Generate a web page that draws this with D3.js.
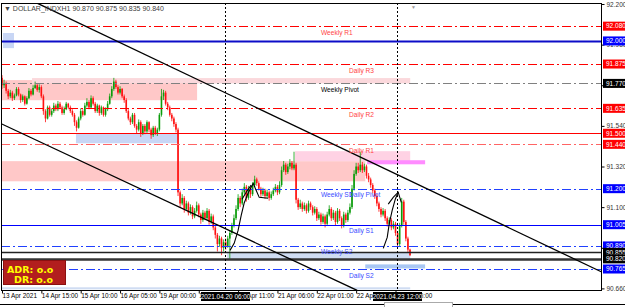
<!DOCTYPE html>
<html>
<head>
<meta charset="utf-8">
<script src="https://d3js.org/d3.v7.min.js"></script>
<style>
body{margin:0;background:#fff;overflow:hidden}
text{font-family:"Liberation Sans",Arial,sans-serif}
</style>
</head>
<body>
<div id="chart"></div>
<script>
// H1 candles, 13 Apr 2021 .. 23 Apr 2021 (open of bar i = close of bar i-1)
var firstOpen = 91.800;
var closes = [
91.760,91.770,91.730,91.700,91.720,91.690,91.705,91.740,91.710,91.680,
91.700,91.660,91.690,91.730,91.710,91.745,91.760,91.735,91.750,91.700,
91.620,91.580,91.640,91.600,91.620,91.650,91.630,91.660,91.640,91.610,
91.630,91.660,91.640,91.620,91.600,91.560,91.530,91.580,91.620,91.600,
91.650,91.670,91.640,91.690,91.660,91.620,91.650,91.610,91.640,91.600,
91.630,91.660,91.700,91.740,91.780,91.750,91.720,91.740,91.700,91.680,
91.620,91.580,91.560,91.600,91.540,91.520,91.560,91.500,91.540,91.510,
91.560,91.520,91.490,91.530,91.500,91.520,91.600,91.700,91.720,91.660,
91.640,91.600,91.580,91.550,91.520,91.180,91.120,91.150,91.090,91.120,
91.070,91.100,91.050,91.080,91.110,91.060,91.030,91.070,91.040,91.080,
91.020,91.050,90.990,90.950,90.900,90.930,90.880,90.910,90.890,90.930,
90.960,91.000,91.040,91.090,91.150,91.120,91.180,91.210,91.150,91.200,
91.170,91.220,91.250,91.230,91.200,91.170,91.190,91.160,91.180,91.150,
91.170,91.190,91.210,91.180,91.220,91.300,91.330,91.290,91.320,91.340,
91.310,91.330,91.140,91.100,91.120,91.090,91.110,91.080,91.120,91.100,
91.070,91.090,91.040,91.060,91.020,91.050,91.010,91.060,91.090,91.040,
91.070,91.020,91.080,91.040,91.000,91.060,91.030,91.070,91.100,91.200,
91.280,91.320,91.300,91.330,91.300,91.320,91.270,91.250,91.220,91.190,
91.160,91.120,91.090,91.060,91.080,91.040,91.010,91.030,90.990,91.010,
90.960,90.900,91.000,91.130,91.020,90.930,90.870,90.840];
var highs = [
91.815,91.790,91.780,91.740,91.735,91.730,91.715,91.750,91.750,91.715,
91.710,91.705,91.700,91.745,91.740,91.760,91.780,91.770,91.765,91.760,
91.710,91.630,91.650,91.650,91.635,91.665,91.660,91.675,91.670,91.650,
91.645,91.670,91.665,91.650,91.630,91.610,91.570,91.590,91.635,91.630,
91.665,91.690,91.680,91.705,91.700,91.670,91.660,91.655,91.650,91.645,
91.640,91.675,91.715,91.755,91.800,91.790,91.760,91.755,91.745,91.710,
91.690,91.630,91.590,91.610,91.610,91.550,91.575,91.570,91.550,91.550,
91.570,91.565,91.530,91.540,91.540,91.530,91.610,91.740,91.735,91.730,
91.670,91.650,91.610,91.590,91.560,91.530,91.190,91.170,91.160,91.135,
91.130,91.115,91.110,91.095,91.130,91.120,91.070,91.085,91.080,91.095,
91.090,91.065,91.060,91.000,90.960,90.945,90.940,90.925,90.930,90.945,
90.975,91.015,91.060,91.110,91.170,91.160,91.200,91.230,91.220,91.215,
91.210,91.235,91.270,91.260,91.240,91.210,91.205,91.200,91.195,91.190,
91.185,91.205,91.225,91.220,91.240,91.320,91.350,91.340,91.335,91.360,
91.350,91.400,91.340,91.150,91.140,91.130,91.125,91.120,91.135,91.130,
91.110,91.105,91.100,91.075,91.070,91.065,91.060,91.075,91.110,91.100,
91.085,91.080,91.095,91.090,91.050,91.075,91.070,91.085,91.120,91.220,
91.300,91.340,91.340,91.400,91.345,91.335,91.330,91.285,91.260,91.230,
91.200,91.170,91.130,91.100,91.095,91.090,91.050,91.045,91.040,91.025,
91.020,90.970,91.015,91.150,91.140,91.030,90.940,90.875];
var lows = [
91.740,91.745,91.715,91.685,91.690,91.675,91.680,91.700,91.700,91.665,
91.670,91.650,91.655,91.685,91.700,91.705,91.740,91.725,91.720,91.690,
91.600,91.560,91.575,91.590,91.590,91.610,91.620,91.620,91.630,91.600,
91.600,91.625,91.630,91.610,91.590,91.540,91.510,91.525,91.570,91.590,
91.595,91.640,91.630,91.635,91.650,91.610,91.610,91.595,91.600,91.590,
91.590,91.620,91.655,91.690,91.730,91.740,91.710,91.710,91.690,91.665,
91.610,91.570,91.545,91.550,91.530,91.500,91.510,91.480,91.490,91.495,
91.500,91.505,91.470,91.480,91.490,91.485,91.510,91.590,91.680,91.650,
91.625,91.590,91.565,91.535,91.505,91.160,91.100,91.110,91.070,91.080,
91.055,91.060,91.035,91.040,91.070,91.045,91.010,91.020,91.030,91.030,
91.005,91.010,90.975,90.930,90.860,90.885,90.840,90.860,90.870,90.880,
90.820,90.950,90.990,91.030,91.080,91.100,91.110,91.170,91.130,91.140,
91.150,91.160,91.210,91.215,91.190,91.155,91.160,91.145,91.150,91.135,
91.140,91.160,91.180,91.165,91.170,91.210,91.290,91.275,91.280,91.305,
91.300,91.300,91.120,91.085,91.090,91.075,91.080,91.065,91.070,91.085,
91.055,91.060,91.025,91.030,91.005,91.010,90.990,91.000,91.050,91.025,
91.030,91.000,91.010,91.025,90.985,90.990,91.015,91.020,91.060,91.090,
91.190,91.270,91.285,91.290,91.285,91.290,91.255,91.235,91.205,91.175,
91.145,91.105,91.075,91.045,91.050,91.025,90.995,91.000,90.975,90.980,
90.945,90.880,90.890,90.990,91.005,90.915,90.855,90.835];

var timeTickBars = [0,19,38,57,76,95,114,133,152,171,190];
var timeTickLabels = ["13 Apr 2021","14 Apr 15:00","15 Apr 10:00","16 Apr 05:00","19 Apr 00:00",
  "19 Apr 16:00","20 Apr 11:00","21 Apr 06:00","22 Apr 01:00","22 Apr 20:00","23 Apr 15:00"];
var priceTicks = [92.200,91.980,91.760,91.540,91.320,91.100,90.880,90.660];

// horizontal levels
var levelPrices = [92.080,92.000,91.875,91.770,91.635,91.500,91.440,91.200,91.005,90.890,90.855,90.820,90.765];
var levelKinds = ["res","blue","res","pivot","res","red","res1","sup","blue1","sup","black1","black2","sup"];
var pivotNames = ["Weekly R1","Daily R3","Weekly Pivot","Daily R2","Daily R1","Weekly S1","Daily Pivot","Daily S1","Weekly S2","Daily S2"];
var pivotPrices = [92.080,91.875,91.770,91.635,91.440,91.200,91.200,91.005,90.890,90.765];

// rectangles: [from bar, to bar], [top price, bottom price]
var zoneBars = [[0.5,5.8],[-1,94.2],[14.5,197.1],[35.7,85],[-1,175.4],[141.5,197.1],[176.3,204.3],[108.7,197.1],[175.4,204.3],[-0.5,197.1]];
var zonePrices = [[92.043,91.961],[91.788,91.679],[91.799,91.770],[91.500,91.446],[91.349,91.240],[91.403,91.349],[91.354,91.332],[90.855,90.817],[90.790,90.768],[90.666,90.655]];
var zoneKinds = ["blue","pink","pinkLight","blue","pink","lilac","magenta","blueLight","blueMid","blueLight"];

// trend lines
var trendBars = [[16.9,289.9],[-1,171.5]];
var trendPrices = [[92.205,90.747],[91.555,90.649]];

// hand drawn arrows
var arrowBars = [
  [110.1,112.1,114.0,115.5,116.9,118.8,121.3,122.7,124.2,128.5],
  [115.9,117.9,120.3],
  [184.1,186.0,187.0,188.4,189.9,191.3],
  [186.5,188.9,191.3,192.8]];
var arrowPrices = [
  [90.866,90.904,90.974,91.056,91.121,91.175,91.229,91.191,91.153,91.148],
  [91.143,91.181,91.219],
  [90.877,90.936,91.012,91.083,91.143,91.181],
  [91.116,91.153,91.181,91.126]];

var markerBars = [107.7,190.8];
var markerLabels = ["2021.04.20 06:00","2021.04.23 12:00"];

var adrLines = ["ADR: o.o","DR: o.o"];

var plot = {left:1, top:3, right:602, bottom:291};

var svg = d3.select("#chart").append("svg")
  .attr("width",625).attr("height",307)
  .style("display","block");

var x = d3.scaleLinear().domain([0,197]).range([2,410]);
var y = d3.scaleLinear().domain([90.66,92.2]).range([288.4,4]);

svg.append("defs").append("clipPath").attr("id","clip")
  .append("rect")
  .attr("x",plot.left).attr("y",plot.top)
  .attr("width",plot.right-plot.left).attr("height",plot.bottom-plot.top);

var g = svg.append("g").attr("clip-path","url(#clip)");

var zoneColor = {blue:"#c8d6f5",pink:"#ffc8c8",pinkLight:"#fbd8dc",lilac:"#ffd2e4",
  magenta:"#ff8cff",blueMid:"#a9c7f3",blueLight:"#cfdcf2"};

g.selectAll("rect.zone")
  .data(zoneBars)
  .enter()
  .append("rect")
    .attr("class","zone")
    .attr("x",function(d){return x(d[0])})
    .attr("width",function(d){return x(d[1])-x(d[0])})
    .attr("y",function(d,i){return y(zonePrices[i][0])})
    .attr("height",function(d,i){return y(zonePrices[i][1])-y(zonePrices[i][0])})
    .style("fill",function(d,i){return zoneColor[zoneKinds[i]]});

// candles
var candles = closes.map(function(c,i){
  var o = i==0 ? firstOpen : closes[i-1];
  return {i:i,o:o,h:highs[i],l:lows[i],c:c};
});
var upCol = "#0a9c0a", dnCol = "#ff1010";

g.selectAll("line.wick")
  .data(candles)
  .enter()
  .append("line")
    .attr("x1",function(d){return x(d.i)})
    .attr("x2",function(d){return x(d.i)})
    .attr("y1",function(d){return y(Math.max(d.h,d.o,d.c))})
    .attr("y2",function(d){return y(Math.min(d.l,d.o,d.c))})
    .attr("stroke",function(d){return d.c>=d.o?upCol:dnCol})
    .attr("stroke-width",0.8);

g.selectAll("rect.body")
  .data(candles)
  .enter()
  .append("rect")
    .attr("x",function(d){return x(d.i)-0.8})
    .attr("width",1.6)
    .attr("y",function(d){return y(Math.max(d.o,d.c))})
    .attr("height",function(d){return Math.max(1,Math.abs(y(d.o)-y(d.c)))})
    .style("fill",function(d){return d.c>=d.o?upCol:dnCol});

// level lines
var levelStyle = {
  res:{c:"#ff0000",w:1,dash:"9,3,2,3"},
  res1:{c:"#ff6464",w:1,dash:"9,3,2,3"},
  pivot:{c:"#808080",w:1,dash:"9,3,2,3"},
  sup:{c:"#2040ff",w:1,dash:"9,3,2,3"},
  blue:{c:"#0c0cc8",w:2,dash:null},
  blue1:{c:"#0000ff",w:1.2,dash:null},
  red:{c:"#ff0000",w:1.2,dash:null},
  black1:{c:"#222222",w:1.3,dash:null},
  black2:{c:"#333333",w:2.4,dash:null}
};
g.selectAll("line.level")
  .data(levelPrices)
  .enter()
  .append("line")
    .attr("x1",plot.left).attr("x2",plot.right)
    .attr("y1",function(d){return Math.round(y(d))+0.5})
    .attr("y2",function(d){return Math.round(y(d))+0.5})
    .attr("stroke",function(d,i){return levelStyle[levelKinds[i]].c})
    .attr("stroke-width",function(d,i){return levelStyle[levelKinds[i]].w})
    .attr("stroke-dasharray",function(d,i){return levelStyle[levelKinds[i]].dash});

// dotted verticals
g.selectAll("line.marker")
  .data(markerBars)
  .enter()
  .append("line")
    .attr("x1",function(d){return Math.round(x(d))+0.5})
    .attr("x2",function(d){return Math.round(x(d))+0.5})
    .attr("y1",plot.top).attr("y2",plot.bottom)
    .attr("stroke","#000")
    .attr("stroke-dasharray","2,2");

// trend lines
g.selectAll("line.trend")
  .data(trendBars)
  .enter()
  .append("line")
    .attr("x1",function(d){return x(d[0])})
    .attr("x2",function(d){return x(d[1])})
    .attr("y1",function(d,i){return y(trendPrices[i][0])})
    .attr("y2",function(d,i){return y(trendPrices[i][1])})
    .attr("stroke","#000")
    .attr("stroke-width",1.3);

var arrowLine = d3.line()
  .x(function(d){return x(d[0])})
  .y(function(d){return y(d[1])});
g.selectAll("path.arrow")
  .data(arrowBars)
  .enter()
  .append("path")
    .attr("d",function(d,k){return arrowLine(d.map(function(b,j){return [b,arrowPrices[k][j]]}))})
    .attr("fill","none")
    .attr("stroke","#000")
    .attr("stroke-width",1.1);

// level names
var weeklyLabelBar = 154, dailyLabelBar = 167.6;
function labelColor(n){
  if(n=="Weekly Pivot") return "#000";
  if(n.indexOf(" R")>0) return "#ff4444";
  return "#3a4cff";
}
g.selectAll("text.pname")
  .data(pivotNames)
  .enter()
  .append("text")
    .attr("x",function(d){return x(d.indexOf("Weekly")==0?weeklyLabelBar:dailyLabelBar)})
    .attr("y",function(d,i){return y(pivotPrices[i])+8.5})
    .style("font-size","6.6px")
    .style("fill",labelColor)
    .text(function(d){return d});

// frame
svg.append("rect")
  .attr("x",plot.left+0.5).attr("y",plot.top+0.5)
  .attr("width",plot.right-plot.left-1).attr("height",plot.bottom-plot.top-1)
  .attr("fill","none").attr("stroke","#000");

// title
var last = candles[candles.length-1];
svg.append("text")
  .attr("x",4).attr("y",10.5)
  .style("font-size","7px").style("fill","#404040")
  .text("\u25BC DOLLAR_INDXH1 "+[last.o,last.h,last.l,last.c].map(d3.format(".3f")).join(" "));
svg.append("text")
  .attr("x",411).attr("y",9)
  .style("font-size","5px").style("fill","#999")
  .text("\u25BC");

// price axis
var yAxis = d3.axisRight(y).tickValues(priceTicks).tickFormat(d3.format(".3f")).tickSize(3).tickPadding(2);
var gy = svg.append("g")
  .attr("transform","translate("+(plot.right-0.5)+",0)")
  .call(yAxis);
gy.select(".domain").remove();
gy.attr("font-family","Liberation Sans, Arial, sans-serif").attr("font-size",6.5);
gy.selectAll("text").style("fill","#333");

function tagColor(k){
  if(k=="res"||k=="res1"||k=="red") return "#ff0000";
  if(k=="sup"||k=="blue"||k=="blue1") return "#0000ff";
  return "#000000";
}
var tags = svg.selectAll("g.tag")
  .data(levelPrices)
  .enter()
  .append("g")
    .attr("transform",function(d){return "translate("+(plot.right+1)+","+y(d)+")"});
tags.append("rect")
  .attr("x",0).attr("y",-4.5).attr("width",23).attr("height",9)
  .style("fill",function(d,i){return tagColor(levelKinds[i])});
tags.append("text")
  .attr("x",3).attr("dy","0.35em")
  .style("font-size","6.5px").style("fill","#fff")
  .text(d3.format(".3f"));

// time axis
var xAxis = d3.axisBottom(x).tickValues(timeTickBars)
  .tickFormat(function(d,i){return timeTickLabels[i]})
  .tickSize(3).tickPadding(0);
var gx = svg.append("g")
  .attr("transform","translate(0,"+(plot.bottom-0.5)+")")
  .call(xAxis);
gx.select(".domain").remove();
gx.attr("font-family","Liberation Sans, Arial, sans-serif").attr("font-size",6.4);
gx.selectAll("text").attr("text-anchor","start").attr("dx",0).style("fill","#000");

var marks = svg.selectAll("g.mlabel")
  .data(markerBars)
  .enter()
  .append("g")
    .attr("transform",function(d){return "translate("+(Math.round(x(d))+0.5)+","+(plot.bottom+1)+")"});
marks.append("rect")
  .attr("x",-24.5).attr("y",0).attr("width",49).attr("height",9)
  .style("fill","#000");
marks.append("text")
  .attr("x",0).attr("y",7)
  .attr("text-anchor","middle")
  .style("font-size","6.4px").style("fill","#fff")
  .text(function(d,i){return markerLabels[i]});

// ADR box
svg.append("rect")
  .attr("x",3.5).attr("y",260.5).attr("width",62).attr("height",24)
  .style("fill","#b21e1e").style("stroke","#8a1010");
svg.selectAll("text.adr")
  .data(adrLines)
  .enter()
  .append("text")
    .attr("x",function(d,i){return i==0?7:14})
    .attr("y",function(d,i){return 273+i*10})
    .style("font-family","DejaVu Sans, sans-serif")
    .style("font-size","9.5px")
    .style("font-weight","bold")
    .style("fill","#ffff00")
    .text(function(d){return d});

// bottom strip of the window
svg.append("line")
  .attr("x1",0).attr("x2",625).attr("y1",304.5).attr("y2",304.5)
  .attr("stroke","#000");
svg.append("rect")
  .attr("x",384.5).attr("y",302.5).attr("width",68).attr("height",6)
  .style("fill","#fff").style("stroke","#aaa");
</script>
</body>
</html>
